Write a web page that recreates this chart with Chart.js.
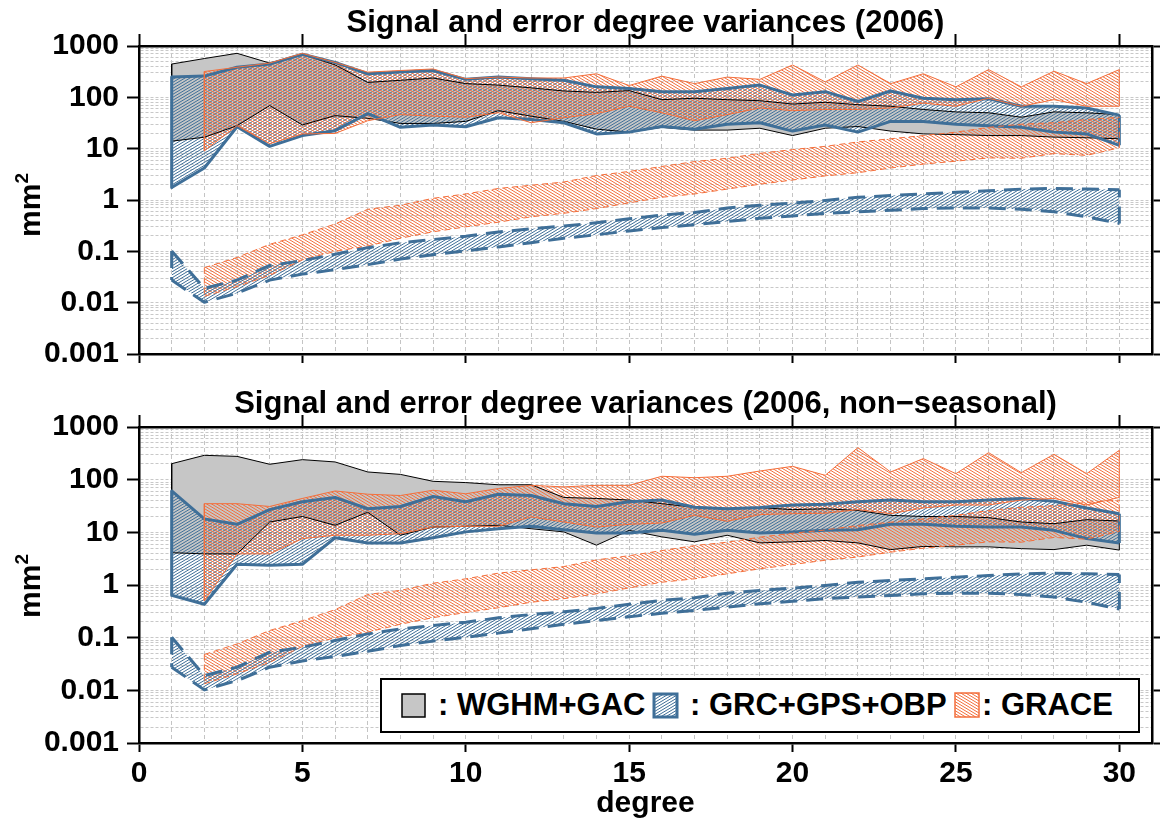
<!DOCTYPE html>
<html>
<head>
<meta charset="utf-8">
<script src="https://cdn.jsdelivr.net/npm/chart.js@4.4.0/dist/chart.umd.min.js"></script>
<style>
  body { margin: 0; background: #fff; width: 1161px; height: 820px; position: relative; overflow: hidden;
         font-family: "Liberation Sans", Arial, sans-serif; }
  canvas.panel { position: absolute; left: 0; }
  .title { position: absolute; left: 139px; width: 1013px; text-align: center; font-weight: bold; font-size: 31px; line-height: 36px; }
  .ylab { position: absolute; left: -20px; width: 100px; height: 36px; line-height: 36px; text-align: center;
          font-weight: bold; font-size: 30px; transform: rotate(-90deg); }
  .ylab sup { font-size: 19px; vertical-align: 0; position: relative; top: -12px; }
  .xlab { position: absolute; left: 139px; width: 1013px; top: 784px; text-align: center; font-weight: bold; font-size: 30px; line-height: 36px; }
  #legend { position: absolute; left: 380px; top: 678px; width: 756px; height: 51px; border: 2px solid #000; background: #fff; }
  #legend canvas, #legend span { position: absolute; }
  #legend span { top: 7px; font-weight: bold; font-size: 31px; line-height: 36px; white-space: nowrap; }
</style>
</head>
<body>
<canvas id="top" class="panel" width="1161" height="380" style="top:0"></canvas>
<canvas id="bottom" class="panel" width="1161" height="440" style="top:380px"></canvas>

<div class="title" style="top:4px">Signal and error degree variances (2006)</div>
<div class="title" style="top:385px">Signal and error degree variances (2006, non−seasonal)</div>
<div class="ylab" style="top:187px">mm<sup>2</sup></div>
<div class="ylab" style="top:568px">mm<sup>2</sup></div>
<div class="xlab">degree</div>

<div id="legend">
  <canvas id="swGray" width="26" height="26" style="left:19px;top:13px"></canvas>
  <span style="left:56px">: WGHM+GAC</span>
  <canvas id="swBlue" width="28" height="28" style="left:270px;top:12px"></canvas>
  <span style="left:308px">: GRC+GPS+OBP</span>
  <canvas id="swOrange" width="28" height="28" style="left:572px;top:12px"></canvas>
  <span style="left:600px">: GRACE</span>
</div>

<script>
// spherical harmonic degree
const degrees = [1, 2, 3, 4, 5, 6, 7, 8, 9, 10, 11, 12, 13, 14, 15, 16, 17, 18, 19, 20, 21, 22, 23, 24, 25, 26, 27, 28, 29, 30];
const xTickValues = [0, 5, 10, 15, 20, 25, 30];
const yTickValues = [0.001, 0.01, 0.1, 1, 10, 100, 1000];
const yTickLabels = ['0.001', '0.01', '0.1', '1', '10', '100', '1000'];

// 2006 signal bands (upper / lower), mm^2
const wghmHi06 = [445, 570, 720, 465, 690, 430, 195, 215, 238, 185, 173, 153, 133, 125, 135, 90, 96, 90, 86, 74, 80, 72, 67, 58, 52, 50, 41, 52, 50, 46];
const wghmLo06 = [14, 16.7, 28, 69, 29, 44, 39, 31, 31, 34, 55, 43, 34, 24, 21, 26, 23, 23, 25, 18, 25, 27, 22, 19.4, 18.8, 18, 18, 16.8, 16.3, 15.6];
const grcHi06 = [248, 259, 385, 445, 690, 480, 288, 310, 333, 224, 248, 231, 215, 160, 149, 129, 129, 149, 173, 111, 129, 83, 133, 96, 90, 94, 67, 67, 62, 45];
const grcLo06 = [1.75, 4.2, 26.7, 11.1, 18, 22.4, 48, 26, 29, 26.7, 40, 37, 32, 19.4, 21, 27, 24, 30, 32, 22, 29, 21, 34, 34, 30, 28, 26, 21, 19.4, 11.6];
const graceHi06 = [null, 318, 385, 465, 720, 480, 310, 333, 357, 231, 248, 238, 238, 288, 170, 259, 185, 248, 224, 427, 200, 427, 185, 288, 160, 347, 160, 323, 185, 347];
const graceLo06 = [null, 9.1, 28, 12.5, 19.4, 19.8, 35, 46, 43, 41, 50, 32, 40, 48, 67, 50, 35, 46, 62, 55, 58, 58, 62, 77, 67, 96, 67, 90, 67, 67];

// 2006 non-seasonal signal bands
const wghmHiNs = [201, 290, 277, 196, 240, 217, 140, 126, 93, 88, 80, 80, 46, 44, 41, 35, 30, 28, 29.5, 27, 28, 26, 21, 20, 20, 19, 15.7, 14.6, 17.4, 16.4];
const wghmLoNs = [4.1, 3.9, 3.9, 15.7, 20, 13.6, 24, 8.8, 12.6, 13, 13.6, 11.7, 10.2, 5.7, 10.9, 8.2, 6.6, 8.8, 6.3, 6.6, 7.0, 6.3, 4.7, 5.4, 5.3, 5.3, 4.9, 4.7, 5.7, 4.6];
const grcHiNs = [61, 18, 14.2, 27, 38, 46, 28, 31, 48, 38, 53, 50, 35, 31, 38, 41, 30, 28, 29.5, 33, 34, 38, 41, 38, 38, 41, 44, 39, 29, 22.6];
const grcLoNs = [0.64, 0.43, 2.47, 2.37, 2.47, 7.9, 6.3, 6.3, 7.9, 10.2, 11.7, 13, 11.2, 9.7, 9.7, 10.9, 9.2, 10.9, 9.7, 10.2, 10.9, 11.2, 14.2, 14.2, 13, 12.6, 12.6, 10.9, 7.6, 6.3];
const graceHiNs = [null, 35, 35, 31, 44, 61, 53, 50, 63, 54, 68, 78, 73, 78, 78, 116, 109, 116, 146, 179, 121, 406, 140, 251, 130, 326, 136, 303, 130, 361];
const graceLoNs = [null, 0.5, 3.9, 3.9, 7.6, 8.8, 8.8, 9.4, 12.6, 13, 13, 19.6, 15.7, 12.6, 14.2, 15, 21, 16.2, 21.7, 22.6, 23, 27, 22.6, 29, 33, 33, 41, 44, 33, 46];

// error bands (same in both panels)
const grcErrHi = [0.102, 0.019, 0.0275, 0.053, 0.066, 0.088, 0.118, 0.147, 0.17, 0.197, 0.238, 0.275, 0.31, 0.36, 0.43, 0.51, 0.57, 0.70, 0.79, 0.87, 0.98, 1.13, 1.22, 1.31, 1.41, 1.51, 1.63, 1.68, 1.63, 1.58];
const grcErrLo = [0.0275, 0.0102, 0.0153, 0.0275, 0.036, 0.044, 0.055, 0.071, 0.086, 0.102, 0.122, 0.147, 0.18, 0.21, 0.25, 0.29, 0.33, 0.38, 0.44, 0.49, 0.55, 0.59, 0.63, 0.68, 0.70, 0.70, 0.66, 0.59, 0.47, 0.35];
const graceErrHi = [null, 0.048, 0.076, 0.137, 0.21, 0.34, 0.66, 0.79, 1.08, 1.31, 1.68, 1.94, 2.24, 3.0, 3.6, 4.5, 5.6, 6.5, 8.1, 9.6, 11.1, 13.5, 15.6, 18, 21, 26, 30, 32, 37, 41];
const graceErrLo = [null, 0.0133, 0.0206, 0.034, 0.068, 0.10, 0.127, 0.18, 0.24, 0.30, 0.37, 0.47, 0.55, 0.68, 0.88, 1.13, 1.31, 1.63, 2.03, 2.45, 2.95, 3.4, 4.2, 5.0, 5.7, 6.6, 6.5, 8.0, 7.4, 10.4];

const BLUE = '#3f6f98';
const ORANGE = '#f36f3c';
const GRAY = '#c6c6c6';
const TICK_FONT = { family: '"Liberation Sans", Arial, sans-serif', size: 30, weight: 'bold' };

// diagonal hatch, rising '/' or falling '\'
function hatch(ctx, color, rising) {
    const w = 5, h = 3;
    const c = document.createElement('canvas');
    c.width = w; c.height = h;
    const g = c.getContext('2d');
    g.strokeStyle = color;
    g.lineWidth = 1;
    g.beginPath();
    for (const m of [-1, 0, 1]) {
        if (rising) { g.moveTo(0, h + m * h); g.lineTo(w, m * h); }
        else { g.moveTo(0, m * h); g.lineTo(w, h + m * h); }
    }
    g.stroke();
    return ctx.createPattern(c, 'repeat');
}

const pts = arr => degrees.map((d, i) => ({ x: d, y: arr[i] })).filter(p => p.y !== null);

// closing vertical edges of a band at its first and last degree
function edges(hi, lo) {
    const p = pts(hi), q = pts(lo);
    const a = p[0], b = p[p.length - 1];
    return [
        { x: a.x, y: a.y }, { x: a.x, y: q[0].y }, { x: a.x, y: null },
        { x: b.x, y: q[q.length - 1].y }, { x: b.x, y: b.y }
    ];
}

function bandSets(hi, lo, st) {
    const base = {
        borderColor: st.color, borderWidth: st.width, borderDash: st.dash || [],
        borderJoinStyle: 'round', pointRadius: 0, tension: 0, order: st.order,
        xAxisID: 'x', yAxisID: 'y'
    };
    return [
        { ...base, data: pts(hi), fill: '+1', backgroundColor: st.fill },
        { ...base, data: pts(lo), fill: false },
        { ...base, data: edges(hi, lo), fill: false }
    ];
}

function makePanel(id, s, opts) {
    const canvas = document.getElementById(id);
    const ctx = canvas.getContext('2d');
    const blueHatch = hatch(ctx, BLUE, true);
    const orangeHatch = hatch(ctx, ORANGE, false);

    const datasets = [
        ...bandSets(s.wghmHi, s.wghmLo, { color: '#000', width: 1, fill: GRAY, order: 10 }),
        ...bandSets(s.grcHi, s.grcLo, { color: BLUE, width: 3, fill: blueHatch, order: 9 }),
        ...bandSets(s.graceHi, s.graceLo, { color: ORANGE, width: 1, fill: orangeHatch, order: 8 }),
        ...bandSets(graceErrHi, graceErrLo, { color: ORANGE, width: 1, dash: [6, 4], fill: orangeHatch, order: 7 }),
        ...bandSets(grcErrHi, grcErrLo, { color: BLUE, width: 3, dash: [17, 9], fill: blueHatch, order: 6 })
    ];

    const yGrid = [];
    yTickValues.forEach((d, i) => {
        if (i === yTickValues.length - 1) { yGrid.push(d); return; }
        for (let m = 1; m <= 9; m++) yGrid.push(Number((m * d).toPrecision(3)));
    });

    return new Chart(canvas, {
        type: 'line',
        data: { datasets },
        options: {
            responsive: false,
            animation: false,
            events: [],
            layout: { padding: { top: opts.padTop, left: 0, right: 0, bottom: 0 } },
            plugins: {
                legend: { display: false },
                tooltip: { enabled: false },
                filler: { drawTime: 'beforeDatasetsDraw' }
            },
            scales: {
                x: {
                    type: 'linear', position: 'bottom', min: 0, max: 31,
                    afterBuildTicks: sc => { sc.ticks = [0, ...degrees].map(v => ({ value: v })); },
                    afterFit: sc => { sc.height = opts.bottomH; },
                    ticks: {
                        display: opts.xLabels, autoSkip: false, maxRotation: 0, padding: 4,
                        color: '#000', font: TICK_FONT,
                        callback: v => xTickValues.includes(v) ? String(v) : ''
                    },
                    grid: {
                        color: c => (c.tick && c.tick.value > 0) ? '#c4c4c4' : 'transparent',
                        lineWidth: 1, tickLength: 9, tickWidth: 2,
                        tickColor: c => (c.tick && xTickValues.includes(c.tick.value)) ? '#000' : 'transparent'
                    },
                    border: { color: '#000', width: 2.5, dash: [4, 3] }
                },
                x2: {
                    type: 'linear', position: 'top', min: 0, max: 31,
                    afterBuildTicks: sc => { sc.ticks = xTickValues.map(v => ({ value: v })); },
                    afterFit: sc => { sc.height = 12; },
                    ticks: { display: false },
                    grid: { drawOnChartArea: false, tickLength: 12, tickWidth: 2, tickColor: '#000' },
                    border: { color: '#000', width: 2.5 }
                },
                y: {
                    type: 'logarithmic', position: 'left', min: 0.001, max: 1000,
                    afterBuildTicks: sc => { sc.ticks = yGrid.map(v => ({ value: v })); },
                    afterFit: sc => { sc.width = 139; },
                    ticks: {
                        autoSkip: false, padding: 8, color: '#000', font: TICK_FONT,
                        callback: v => {
                            const i = yTickValues.indexOf(v);
                            return i >= 0 ? yTickLabels[i] : '';
                        }
                    },
                    grid: {
                        color: '#c8c8c8', lineWidth: 1, tickLength: 12, tickWidth: 2,
                        tickColor: c => (c.tick && yTickValues.includes(c.tick.value)) ? '#000' : 'transparent'
                    },
                    border: { color: '#000', width: 2.5, dash: [3, 2] }
                },
                y2: {
                    type: 'logarithmic', position: 'right', min: 0.001, max: 1000,
                    afterBuildTicks: sc => { sc.ticks = yTickValues.map(v => ({ value: v })); },
                    afterFit: sc => { sc.width = 9; },
                    ticks: { display: false },
                    grid: { drawOnChartArea: false, tickLength: 8, tickWidth: 2, tickColor: '#000' },
                    border: { color: '#000', width: 2.5 }
                }
            }
        }
    });
}

makePanel('top', {
    wghmHi: wghmHi06, wghmLo: wghmLo06, grcHi: grcHi06, grcLo: grcLo06, graceHi: graceHi06, graceLo: graceLo06
}, { padTop: 34, bottomH: 18, xLabels: false });

makePanel('bottom', {
    wghmHi: wghmHiNs, wghmLo: wghmLoNs, grcHi: grcHiNs, grcLo: grcLoNs, graceHi: graceHiNs, graceLo: graceLoNs
}, { padTop: 35, bottomH: 77, xLabels: true });

// legend swatches
(function () {
    const g1 = document.getElementById('swGray').getContext('2d');
    g1.fillStyle = GRAY; g1.fillRect(1, 1, 23, 23);
    g1.strokeStyle = '#000'; g1.lineWidth = 1.5; g1.strokeRect(1, 1, 23, 23);

    const g2 = document.getElementById('swBlue').getContext('2d');
    g2.fillStyle = hatch(g2, BLUE, true); g2.fillRect(2, 2, 23, 23);
    g2.strokeStyle = BLUE; g2.lineWidth = 3; g2.strokeRect(2, 2, 23, 23);

    const g3 = document.getElementById('swOrange').getContext('2d');
    g3.fillStyle = hatch(g3, ORANGE, false); g3.fillRect(1, 1, 24, 24);
    g3.strokeStyle = ORANGE; g3.lineWidth = 1.5; g3.strokeRect(1, 1, 24, 24);
})();
</script>
</body>
</html>
